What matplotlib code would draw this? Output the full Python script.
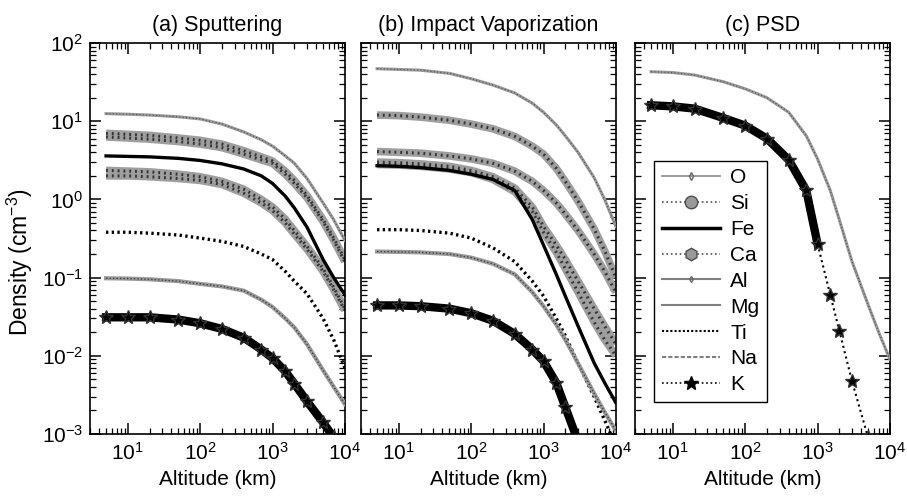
import matplotlib
matplotlib.use('Agg')
import matplotlib.pyplot as plt
from matplotlib.lines import Line2D
from matplotlib.ticker import LogLocator, NullFormatter

plt.rcParams['font.family'] = ['Liberation Sans', 'DejaVu Sans']
plt.rcParams['mathtext.fontset'] = 'custom'
plt.rcParams['mathtext.rm'] = 'Liberation Sans'
plt.rcParams['mathtext.it'] = 'Liberation Sans:italic'

# altitude grid (km), shared by every curve
altitude = [5, 10, 20, 50, 100, 200, 400, 700, 1000, 1500, 2000, 3000, 5000, 7000, 10000]

species = ['O', 'Si', 'Fe', 'Ca', 'Al', 'Mg', 'Ti', 'Na', 'K']

# (a) sputtering, density in cm^-3
sput_O = [12.5, 12.3, 12.0, 11.4, 10.7, 9.2, 7.3, 5.8, 4.8, 3.6, 2.9, 1.85, 0.9, 0.55, 0.3]
sput_Si = [6.3, 6.1, 5.9, 5.5, 5.1, 4.6, 3.8, 3.2, 2.9, 2.1, 1.6, 1.05, 0.52, 0.3, 0.16]
sput_Fe = [3.6, 3.55, 3.5, 3.35, 3.15, 2.85, 2.45, 2.0, 1.6, 1.1, 0.78, 0.44, 0.17, 0.1, 0.06]
sput_Ca = [2.0, 2.0, 1.95, 1.85, 1.75, 1.55, 1.2, 0.9, 0.72, 0.5, 0.36, 0.23, 0.12, 0.07, 0.038]
sput_Al = [2.35, 2.3, 2.25, 2.1, 1.95, 1.7, 1.35, 1.0, 0.8, 0.56, 0.4, 0.25, 0.13, 0.075, 0.04]
sput_Mg = [7.0, 6.8, 6.6, 6.1, 5.7, 5.1, 4.2, 3.5, 3.1, 2.3, 1.75, 1.12, 0.55, 0.32, 0.17]
sput_Ti = [0.38, 0.38, 0.37, 0.35, 0.32, 0.29, 0.25, 0.2, 0.17, 0.12, 0.09, 0.062, 0.03, 0.016, 0.007]
sput_Na = [0.098, 0.097, 0.095, 0.09, 0.083, 0.077, 0.068, 0.052, 0.042, 0.03, 0.023, 0.014, 0.0065, 0.004, 0.0024]
sput_K = [0.031, 0.031, 0.031, 0.029, 0.026, 0.022, 0.017, 0.012, 0.0093, 0.0063, 0.0044, 0.0026, 0.0014, 0.0009, 0.0005]

# (b) impact vaporization
imp_O = [47, 46, 45, 41, 35, 29, 23, 17, 13, 9.0, 6.5, 4.0, 1.9, 1.0, 0.45]
imp_Si = [12, 11.8, 11.3, 10.3, 9.2, 8.0, 6.4, 4.8, 3.8, 2.5, 1.7, 0.95, 0.42, 0.22, 0.1]
imp_Fe = [2.7, 2.65, 2.55, 2.35, 2.1, 1.8, 1.3, 0.55, 0.26, 0.11, 0.058, 0.024, 0.0081, 0.0045, 0.0025]
imp_Ca = [2.8, 2.75, 2.65, 2.45, 2.2, 1.8, 1.25, 0.7, 0.38, 0.21, 0.13, 0.065, 0.027, 0.016, 0.01]
imp_Al = [3.0, 2.95, 2.85, 2.65, 2.35, 1.95, 1.4, 0.8, 0.45, 0.26, 0.17, 0.09, 0.04, 0.024, 0.014]
imp_Mg = [4.1, 4.0, 3.9, 3.6, 3.3, 2.9, 2.3, 1.7, 1.3, 0.9, 0.65, 0.4, 0.2, 0.12, 0.065]
imp_Ti = [0.41, 0.41, 0.4, 0.37, 0.32, 0.24, 0.16, 0.09, 0.058, 0.03, 0.018, 0.008, 0.003, 0.0015, 0.0007]
imp_Na = [0.215, 0.213, 0.21, 0.2, 0.18, 0.15, 0.11, 0.065, 0.043, 0.025, 0.016, 0.008, 0.0033, 0.0019, 0.0011]
imp_K = [0.044, 0.044, 0.043, 0.04, 0.035, 0.028, 0.019, 0.012, 0.0085, 0.0045, 0.0022, 0.0008, 0.0002, 0.0001, 0.00005]

# (c) photon stimulated desorption, only O and K
psd_O = [43, 42, 39, 32, 26, 20, 13, 6.5, 3.3, 1.3, 0.55, 0.16, 0.045, 0.02, 0.009]
psd_K = [16, 15.5, 14.5, 11, 8.8, 6.0, 3.2, 1.3, 0.27, 0.06, 0.021, 0.0047, 0.0009, 0.0003, 0.0001]

titles = ['(a) Sputtering', '(b) Impact Vaporization', '(c) PSD']


def band(ax, y):
    ax.plot(altitude, y, color='0.62', lw=5.5, solid_capstyle='butt', zorder=2)
    ax.plot(altitude, y, color='0.2', lw=2.2, ls=(0, (0.6, 1.3)), zorder=2.1)


def draw(ax, name, y, kthick=len(altitude)):
    if name == 'O':
        ax.plot(altitude, y, color='0.6', lw=2.2, zorder=3)
        ax.plot(altitude, y, color='0.3', lw=0.8, ls=(0, (1, 2)), zorder=3.1)
    elif name in ('Si', 'Ca', 'Al', 'Mg'):
        band(ax, y)
    elif name == 'Fe':
        ax.plot(altitude, y, color='k', lw=2.4, zorder=4)
    elif name == 'Ti':
        ax.plot(altitude, y, color='k', lw=2.4, ls=(0, (0.7, 1.0)), zorder=3)
    elif name == 'Na':
        ax.plot(altitude, y, color='0.6', lw=3, zorder=3)
        ax.plot(altitude, y, color='0.25', lw=1, ls=(0, (1, 1.5)), zorder=3.1)
    elif name == 'K':
        ax.plot(altitude[:kthick], y[:kthick], color='k', lw=6, zorder=3)
        ax.plot(altitude, y, color='k', lw=1.5, ls=':', marker='*', ms=10,
                markeredgecolor='0.2', zorder=3.1)


fig = plt.figure(figsize=(9.07, 5.01), dpi=100)
lefts = [90 / 907, 361 / 907, 635 / 907]
axes = [fig.add_axes([l, 0.134, 0.281, 0.780]) for l in lefts]

panel_a = [sput_O, sput_Si, sput_Fe, sput_Ca, sput_Al, sput_Mg, sput_Ti, sput_Na, sput_K]
panel_b = [imp_O, imp_Si, imp_Fe, imp_Ca, imp_Al, imp_Mg, imp_Ti, imp_Na, imp_K]

for name, y in zip(species, panel_a):
    draw(axes[0], name, y)
for name, y in zip(species, panel_b):
    draw(axes[1], name, y)
draw(axes[2], 'O', psd_O)
draw(axes[2], 'K', psd_K, kthick=9)

for i, ax in enumerate(axes):
    ax.set_xscale('log')
    ax.set_yscale('log')
    ax.set_xlim(3, 1e4)
    ax.set_ylim(1e-3, 1e2)
    ax.xaxis.set_major_locator(LogLocator(base=10, numticks=10))
    ax.xaxis.set_minor_locator(LogLocator(base=10, subs=range(2, 10), numticks=20))
    ax.yaxis.set_major_locator(LogLocator(base=10, numticks=10))
    ax.yaxis.set_minor_locator(LogLocator(base=10, subs=range(2, 10), numticks=20))
    ax.xaxis.set_minor_formatter(NullFormatter())
    ax.yaxis.set_minor_formatter(NullFormatter())
    ax.tick_params(which='both', direction='in', top=True, right=True, labelsize=15)
    ax.tick_params(which='major', length=8, width=1.1)
    ax.tick_params(which='minor', length=4, width=0.9)
    ax.tick_params(axis='x', pad=6)
    ax.tick_params(axis='y', pad=5)
    for s in ax.spines.values():
        s.set_linewidth(1.2)
    ax.set_title(titles[i], fontsize=15.5, pad=9)
    ax.set_xlabel('Altitude (km)', fontsize=15, labelpad=4)
    if i > 0:
        ax.tick_params(axis='y', labelleft=False)

axes[0].set_ylabel('Density (cm$^{-3}$)', fontsize=16.5)
axes[0].yaxis.set_label_coords(-0.215, 0.44)

handles = [
    Line2D([], [], color='0.55', lw=1.2, marker='d', ms=4, mfc='none', mec='0.4'),
    Line2D([], [], color='0.3', lw=1.2, ls=':', marker='o', ms=9, mfc='0.6', mec='0.3'),
    Line2D([], [], color='k', lw=2.5),
    Line2D([], [], color='0.3', lw=1.2, ls=':', marker='h', ms=9, mfc='0.6', mec='0.3'),
    Line2D([], [], color='0.5', lw=1.5, marker='d', ms=3, mfc='none', mec='0.4'),
    Line2D([], [], color='0.5', lw=1.5),
    Line2D([], [], color='k', lw=1.5, ls=(0, (1, 1))),
    Line2D([], [], color='0.5', lw=1.5, ls=(0, (2, 1))),
    Line2D([], [], color='k', lw=1.2, ls=':', marker='*', ms=10),
]
leg = axes[2].legend(handles, species, loc='upper left', bbox_to_anchor=(0.035, 0.725),
                     fontsize=15, frameon=True, fancybox=False, framealpha=1,
                     edgecolor='k', handlelength=2.8, labelspacing=0.33,
                     borderpad=0.35, handletextpad=0.5, numpoints=1)
leg.get_frame().set_linewidth(1.0)

fig.savefig('out.png', dpi=100)
